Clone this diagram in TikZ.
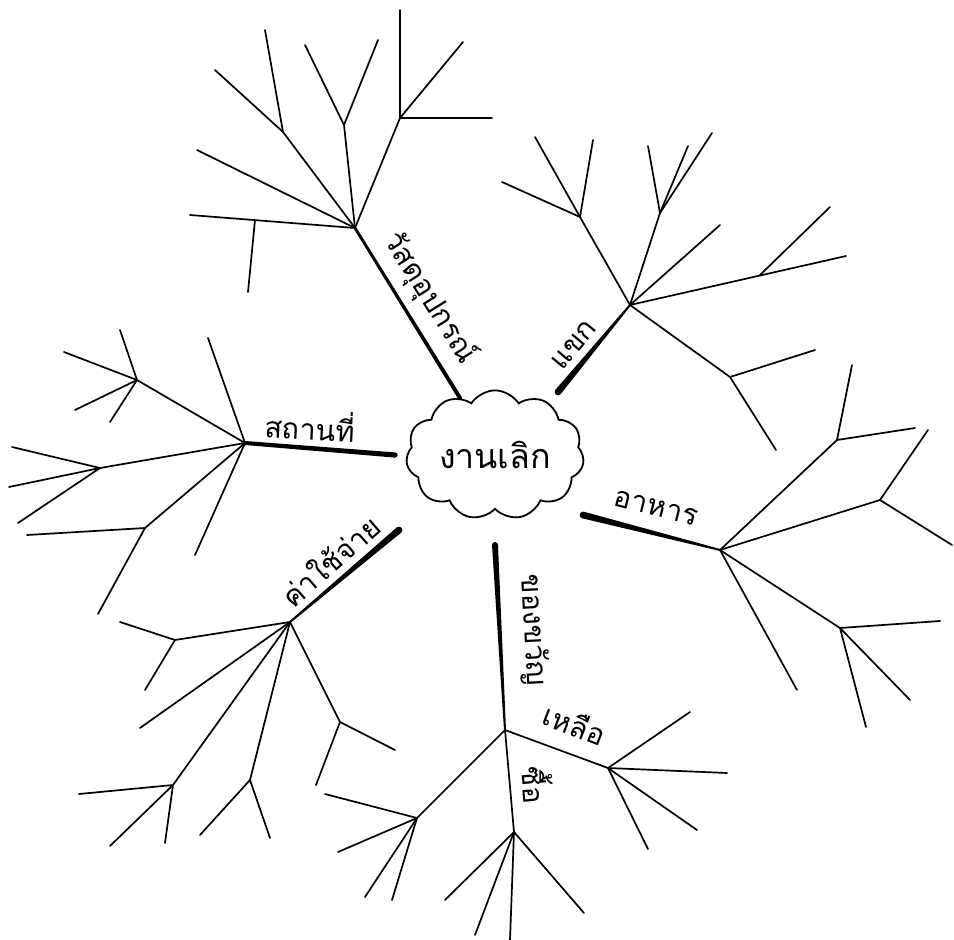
\documentclass[tikz,border=0pt]{standalone}
\usepackage{fontspec}
\newfontfamily\thai[Script=Thai]{Loma}
\usetikzlibrary{calc,shapes.symbols}
\newcommand\taperstem[4]{%
  \fill ($(#1)!#3!90:(#2)$) -- ($(#2)!#4!-90:(#1)$) -- ($(#2)!#4!90:(#1)$) -- ($(#1)!#3!-90:(#2)$) -- cycle;
  \fill (#1) circle[radius=#3];
}
\begin{document}
\begin{tikzpicture}[x=1pt,y=-1pt,
  br/.style={line width=1.7pt,line cap=round,line join=round},
  lbl/.style={font=\thai\fontsize{29}{31}\selectfont,inner sep=0pt}]
\useasboundingbox[fill=white] (0,0) rectangle (954,940);
% centre
\node[cloud,draw,line width=1.8pt,cloud puffs=11,cloud puff arc=115,aspect=1.45,
  minimum width=178pt,minimum height=125pt,inner sep=0pt,
  font=\thai\fontsize{34}{36}\selectfont] (c) at (495,455) {งานเลิก};
% stems
\coordinate (s1) at (395,455); \coordinate (J1) at (245,443);
\coordinate (s2) at (460,398); \coordinate (A) at (355,228);
\coordinate (s3) at (558,392); \coordinate (B) at (630,305);
\coordinate (s4) at (583,515); \coordinate (C) at (720,550);
\coordinate (s5) at (399,530); \coordinate (J2) at (290,622);
\coordinate (s6) at (495,545); \coordinate (D) at (505,730);
\taperstem{s1}{J1}{2.6pt}{2pt}
\taperstem{s2}{A}{2pt}{1.4pt}
\taperstem{s3}{B}{3.4pt}{1pt}
\taperstem{s4}{C}{3.4pt}{1pt}
\taperstem{s5}{J2}{3.4pt}{1pt}
\taperstem{s6}{D}{3pt}{1pt}
% ---- branch A
\coordinate (a1) at (190,215); \coordinate (a1m) at (255,220); \coordinate (a1d) at (248,292);
\coordinate (a2) at (197,150);
\coordinate (a3j) at (283,132); \coordinate (a3a) at (215,70); \coordinate (a3b) at (265,30);
\coordinate (a4j) at (344,125); \coordinate (a4a) at (305,45); \coordinate (a4b) at (378,40);
\coordinate (a5j) at (400,118); \coordinate (a5a) at (400,10); \coordinate (a5b) at (463,42); \coordinate (a5c) at (492,118);
\draw[br] (A) -- (a1);  \draw[br] (a1m) -- (a1d);
\draw[br] (A) -- (a2);
\draw[br] (A) -- (a3j); \draw[br] (a3j) -- (a3a); \draw[br] (a3j) -- (a3b);
\draw[br] (A) -- (a4j); \draw[br] (a4j) -- (a4a); \draw[br] (a4j) -- (a4b);
\draw[br] (A) -- (a5j); \draw[br] (a5j) -- (a5a); \draw[br] (a5j) -- (a5b); \draw[br] (a5j) -- (a5c);
% ---- branch B
\coordinate (b1j) at (580,217); \coordinate (b1a) at (502,182); \coordinate (b1b) at (535,137); \coordinate (b1c) at (593,140);
\coordinate (b2j) at (660,213); \coordinate (b2a) at (648,146); \coordinate (b2b) at (688,146); \coordinate (b2c) at (712,133);
\coordinate (b3) at (720,225);
\coordinate (b4) at (846,256); \coordinate (b4m) at (760,275); \coordinate (b4a) at (830,207);
\coordinate (b5m) at (730,377); \coordinate (b5) at (776,450); \coordinate (b5a) at (815,350);
\draw[br] (B) -- (b1j); \draw[br] (b1j) -- (b1a); \draw[br] (b1j) -- (b1b); \draw[br] (b1j) -- (b1c);
\draw[br] (B) -- (b2j); \draw[br] (b2j) -- (b2a); \draw[br] (b2j) -- (b2b); \draw[br] (b2j) -- (b2c);
\draw[br] (B) -- (b3);
\draw[br] (B) -- (b4); \draw[br] (b4m) -- (b4a);
\draw[br] (B) -- (b5m) -- (b5); \draw[br] (b5m) -- (b5a);
% ---- branch C
\coordinate (c1j) at (837,440); \coordinate (c1a) at (852,365); \coordinate (c1b) at (915,428);
\coordinate (c2j) at (880,500); \coordinate (c2a) at (928,430); \coordinate (c2b) at (952,545);
\coordinate (c3j) at (840,628); \coordinate (c3a) at (940,621); \coordinate (c3b) at (910,700); \coordinate (c3c) at (866,727);
\coordinate (c4) at (797,690);
\draw[br] (C) -- (c1j); \draw[br] (c1j) -- (c1a); \draw[br] (c1j) -- (c1b);
\draw[br] (C) -- (c2j); \draw[br] (c2j) -- (c2a); \draw[br] (c2j) -- (c2b);
\draw[br] (C) -- (c3j); \draw[br] (c3j) -- (c3a); \draw[br] (c3j) -- (c3b); \draw[br] (c3j) -- (c3c);
\draw[br] (C) -- (c4);
% ---- branch J2
\coordinate (k1j) at (175,640); \coordinate (k1a) at (120,622); \coordinate (k1b) at (145,690);
\coordinate (k2) at (140,728);
\coordinate (k3j) at (173,785); \coordinate (k3a) at (79,794); \coordinate (k3b) at (110,846); \coordinate (k3c) at (165,843);
\coordinate (k4j) at (250,780); \coordinate (k4a) at (200,835); \coordinate (k4b) at (270,838);
\coordinate (k5j) at (340,722); \coordinate (k5a) at (395,750); \coordinate (k5b) at (316,785);
\draw[br] (J2) -- (k1j); \draw[br] (k1j) -- (k1a); \draw[br] (k1j) -- (k1b);
\draw[br] (J2) -- (k2);
\draw[br] (J2) -- (k3j); \draw[br] (k3j) -- (k3a); \draw[br] (k3j) -- (k3b); \draw[br] (k3j) -- (k3c);
\draw[br] (J2) -- (k4j); \draw[br] (k4j) -- (k4a); \draw[br] (k4j) -- (k4b);
\draw[br] (J2) -- (k5j); \draw[br] (k5j) -- (k5a); \draw[br] (k5j) -- (k5b);
% ---- branch J1
\coordinate (l1) at (208,338);
\coordinate (l2j) at (137,380); \coordinate (l2a) at (64,352); \coordinate (l2b) at (120,330); \coordinate (l2c) at (75,410); \coordinate (l2d) at (110,422);
\coordinate (l3j) at (100,468); \coordinate (l3a) at (12,447); \coordinate (l3b) at (9,487); \coordinate (l3c) at (18,523);
\coordinate (l4j) at (145,528); \coordinate (l4a) at (27,535); \coordinate (l4b) at (98,614);
\coordinate (l5) at (195,555);
\draw[br] (J1) -- (l1);
\draw[br] (J1) -- (l2j); \draw[br] (l2j) -- (l2a); \draw[br] (l2j) -- (l2b); \draw[br] (l2j) -- (l2c); \draw[br] (l2j) -- (l2d);
\draw[br] (J1) -- (l3j); \draw[br] (l3j) -- (l3a); \draw[br] (l3j) -- (l3b); \draw[br] (l3j) -- (l3c);
\draw[br] (J1) -- (l4j); \draw[br] (l4j) -- (l4a); \draw[br] (l4j) -- (l4b);
\draw[br] (J1) -- (l5);
% ---- branch D
\coordinate (E) at (608,768); \coordinate (e1) at (690,712); \coordinate (e2) at (727,773); \coordinate (e3) at (697,830); \coordinate (e4) at (648,849);
\coordinate (F) at (514,832); \coordinate (f1) at (510,940); \coordinate (f2) at (584,913); \coordinate (f3) at (445,900); \coordinate (f4) at (475,935);
\coordinate (G) at (417,818); \coordinate (g1) at (325,794); \coordinate (g2) at (338,852); \coordinate (g3) at (365,897); \coordinate (g4) at (392,900);
\draw[br] (D) -- (E); \draw[br] (E) -- (e1); \draw[br] (E) -- (e2); \draw[br] (E) -- (e3); \draw[br] (E) -- (e4);
\draw[br] (D) -- (F); \draw[br] (F) -- (f1); \draw[br] (F) -- (f2); \draw[br] (F) -- (f3); \draw[br] (F) -- (f4);
\draw[br] (D) -- (G); \draw[br] (G) -- (g1); \draw[br] (G) -- (g2); \draw[br] (G) -- (g3); \draw[br] (G) -- (g4);
% ---- labels
\node[lbl,rotate=-3] (t1) at (310,425) {สถานที่};
\node[lbl,rotate=-58] (t2) at (430,298) {วัสดุอุปกรณ์};
\node[lbl,rotate=50] (t3) at (574,345) {แขก};
\node[lbl,rotate=-14] (t4) at (656,508) {อาหาร};
\node[lbl,rotate=41] (t5) at (330,560) {ค่าใช้จ่าย};
\node[lbl,rotate=-87] (t6) at (533,630) {ของขวัญ};
\node[lbl,rotate=-21] (t7) at (575,724) {เหลือ};
\node[lbl,rotate=-85] (t8) at (538,785) {ซื้อ};
\end{tikzpicture}
\end{document}
